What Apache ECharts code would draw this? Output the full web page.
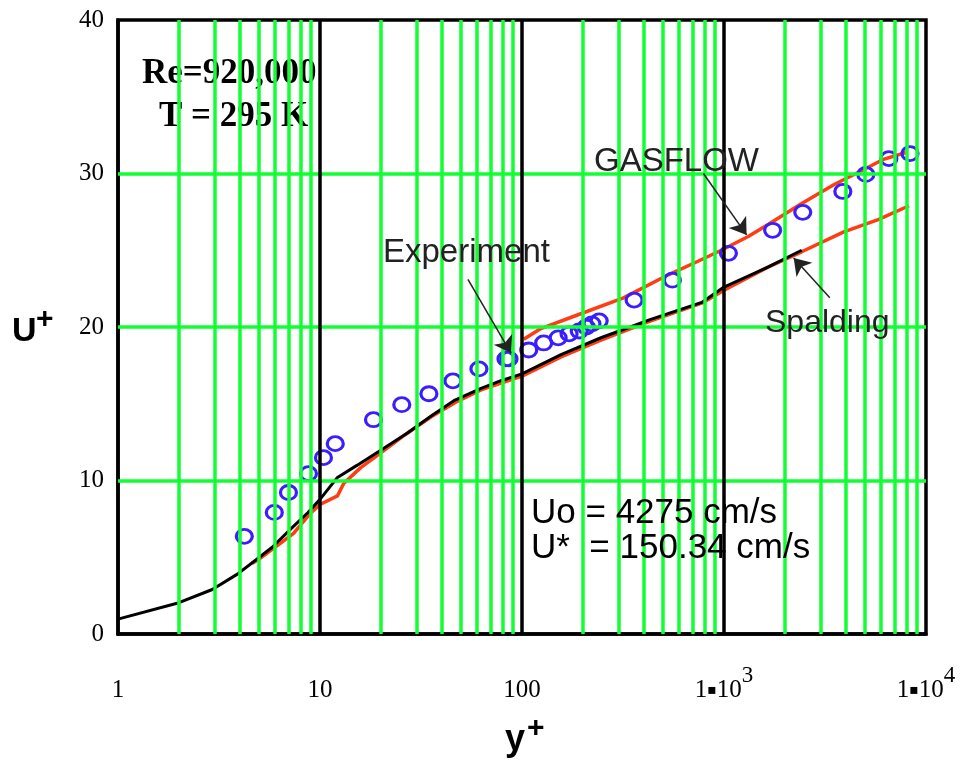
<!DOCTYPE html>
<html><head><meta charset="utf-8">
<script src="https://cdn.jsdelivr.net/npm/echarts@6/dist/echarts.min.js"></script>
<style>html,body{margin:0;padding:0;background:#fff}#c{width:968px;height:760px}</style>
</head><body><div id="c"></div>
<script>
// Experiment (circles)
var expYPlus = [4.22, 5.94, 6.98, 8.77, 10.4, 11.9, 18.4, 25.4, 34.6, 45.5, 61.2, 83.3, 86.2, 108, 128, 151, 171, 192, 208, 222, 241, 359, 555, 1052, 1741, 2454, 3875, 5037, 6548, 8336];
var expUPlus = [6.36, 7.92, 9.22, 10.45, 11.49, 12.4, 13.96, 14.94, 15.65, 16.49, 17.27, 17.92, 17.92, 18.5, 18.96, 19.29, 19.55, 19.74, 20.0, 20.2, 20.4, 21.75, 23.05, 24.8, 26.3, 27.47, 28.83, 29.94, 30.97, 31.3];
// Spalding (black)
var spaldingYPlus = [1, 1.96, 2.93, 3.9, 4.9, 5.8, 7.3, 8.7, 10, 12.2, 15.3, 20.7, 27.1, 35.5, 46, 62.7, 78.7, 100, 156, 246, 434, 776, 1000, 1650, 2425];
var spaldingUPlus = [0.97, 2.0, 2.9, 3.9, 4.9, 5.65, 6.95, 7.9, 8.77, 10.2, 11.0, 12.1, 13.1, 14.2, 15.2, 16.0, 16.5, 16.95, 18.2, 19.3, 20.5, 21.6, 22.6, 23.9, 25.0];
// Lower red curve
var redLowYPlus = [4.6, 4.9, 6.36, 7.4, 8.95, 10, 12.2, 13.1, 15.9, 20, 26.5, 35.5, 47, 62.7, 100, 156, 246, 434, 776, 1000, 1650, 2425, 3920, 5800, 8240];
var redLowUPlus = [4.6, 4.8, 5.9, 6.56, 7.86, 8.44, 9.0, 9.8, 10.84, 11.8, 13.0, 14.15, 15.1, 15.9, 16.8, 18.05, 19.15, 20.4, 21.55, 22.4, 23.9, 24.9, 26.2, 27.0, 27.9];
// GASFLOW (upper red)
var gasflowYPlus = [102, 124, 181, 318, 530, 748, 970, 1318, 1660, 2425, 3530, 4660, 6100, 8100];
var gasflowUPlus = [19.2, 19.9, 20.7, 21.9, 23.4, 24.3, 25.0, 25.9, 26.7, 28.05, 29.3, 30.1, 30.9, 31.4];
// grid lines / ticks
var minorGridX = [2,3,4,5,6,7,8,9,20,30,40,50,60,70,80,90,200,300,400,500,600,700,800,900,2000,3000,4000,5000,6000,7000,8000,9000];
var decadeGridX = [10, 100, 1000];
var gridYLines = [10, 20, 30];
var xTickLabels = {1:'{n|1}', 10:'{n|10}', 100:'{n|100}', 1000:'{n|1}{d|▪}{n|10}{s|3}', 10000:'{n|1}{d|▪}{n|10}{s|4}'};
// annotation arrows (start -> tip, data coords)
var arrowExperiment = [[54, 23.1], [88.2, 18.3]];
var arrowGasflow = [[791, 30.0], [1294, 26.0]];
var arrowSpalding = [[3340, 21.9], [2213, 24.5]];

function zip(a, b) { return a.map(function (v, i) { return [v, b[i]]; }); }
function arrow(a) { return [{coord: a[0]}, {coord: a[1]}]; }

var SERIF = '"Liberation Serif","Times New Roman",serif';
var SANS = '"Liberation Sans",Arial,sans-serif';

var chart = echarts.init(document.getElementById('c'));
chart.setOption({
  animation: false,
  backgroundColor: '#fff',
  grid: {left: 118, right: 42, top: 20, bottom: 126, show: true, borderColor: '#000', borderWidth: 3.5, backgroundColor: 'transparent'},
  xAxis: {
    type: 'log', logBase: 10, min: 1, max: 10000,
    axisLine: {lineStyle: {color: '#000', width: 3.5}},
    axisTick: {show: false}, splitLine: {show: false}, minorTick: {show: false}, minorSplitLine: {show: false},
    axisLabel: {
      margin: 30, color: '#000',
      formatter: function (v) { return xTickLabels[Math.round(v)] || ''; },
      rich: {
        n: {fontFamily: SERIF, fontSize: 25, color: '#000', lineHeight: 52},
        d: {fontFamily: '"DejaVu Sans"', fontSize: 14, color: '#000', lineHeight: 52},
        s: {fontFamily: SERIF, fontSize: 23, color: '#000', lineHeight: 18, verticalAlign: 'top'}
      }
    }
  },
  yAxis: {
    type: 'value', min: 0, max: 40, interval: 10,
    axisLine: {show: true, lineStyle: {color: '#000', width: 3.5}},
    axisTick: {show: false}, splitLine: {show: false},
    axisLabel: {margin: 14, color: '#000', fontFamily: SERIF, fontSize: 25}
  },
  graphic: [
    {type: 'text', z: -1, left: 142, top: 56, style: {text: 'Re=920,000', font: 'bold 35px ' + SERIF, fill: '#000'}},
    {type: 'text', z: -1, left: 159, top: 99, style: {text: 'T = 295 K', font: 'bold 35px ' + SERIF, fill: '#000'}},
    {type: 'text', z: 100, left: 383, top: 236, style: {text: 'Experiment', font: '33px ' + SANS, fill: '#222'}},
    {type: 'text', z: 100, left: 594, top: 145, style: {text: 'GASFLOW', font: '33px ' + SANS, fill: '#222'}},
    {type: 'text', z: 100, left: 765, top: 307, style: {text: 'Spalding', font: '32px ' + SANS, fill: '#222'}},
    {type: 'text', z: 100, left: 531, top: 496, style: {text: 'Uo = 4275 cm/s', font: '35px ' + SANS, fill: '#000'}},
    {type: 'text', z: 100, left: 531, top: 531, style: {text: 'U*  = 150.34 cm/s', font: '35px ' + SANS, fill: '#000'}},
    {type: 'text', z: 100, left: 12, top: 315, style: {text: 'U', font: 'bold 34px ' + SANS, fill: '#000'}},
    {type: 'text', z: 100, left: 36, top: 305, style: {text: '+', font: 'bold 30px ' + SANS, fill: '#000'}},
    {type: 'text', z: 100, left: 505, top: 722, style: {text: 'y', font: 'bold 36px ' + SANS, fill: '#000'}},
    {type: 'text', z: 100, left: 527, top: 714, style: {text: '+', font: 'bold 30px ' + SANS, fill: '#000'}}
  ],
  series: [
    {
      type: 'line', data: [], z: 1, silent: true,
      markLine: {
        silent: true, symbol: ['none', 'none'], label: {show: false}, animation: false,
        lineStyle: {color: '#11ff33', width: 3.5, type: 'solid'},
        data: minorGridX.map(function (v) { return {xAxis: v}; }).concat(gridYLines.map(function (v) { return {yAxis: v}; }))
      }
    },
    {
      type: 'line', data: [], z: 1.5, silent: true,
      markLine: {
        silent: true, symbol: ['none', 'none'], label: {show: false}, animation: false,
        lineStyle: {color: '#000', width: 3.5, type: 'solid'},
        data: decadeGridX.map(function (v) { return {xAxis: v}; })
      }
    },
    {type: 'line', name: 'redLow', data: zip(redLowYPlus, redLowUPlus), z: 2, symbol: 'none', lineStyle: {color: '#ff3d14', width: 3.5}},
    {type: 'line', name: 'Spalding', data: zip(spaldingYPlus, spaldingUPlus), z: 3, symbol: 'none', lineStyle: {color: '#000', width: 3}},
    {type: 'line', name: 'GASFLOW', data: zip(gasflowYPlus, gasflowUPlus), z: 3, symbol: 'none', lineStyle: {color: '#ff3d14', width: 3.5}},
    {type: 'scatter', name: 'Experiment', data: zip(expYPlus, expUPlus), z: 4, symbol: 'circle', symbolSize: [16, 14],
      itemStyle: {color: 'rgba(0,0,0,0)', borderColor: '#3a1eff', borderWidth: 3, opacity: 1}},
    {
      type: 'line', data: [], z: 5, silent: true,
      markLine: {
        silent: true, symbol: ['none', 'arrow'], symbolSize: 16, label: {show: false}, animation: false,
        lineStyle: {color: '#222', width: 1.5, type: 'solid'}, itemStyle: {color: '#222'},
        data: [arrow(arrowExperiment), arrow(arrowGasflow), arrow(arrowSpalding)]
      }
    }
  ]
});
</script></body></html>
